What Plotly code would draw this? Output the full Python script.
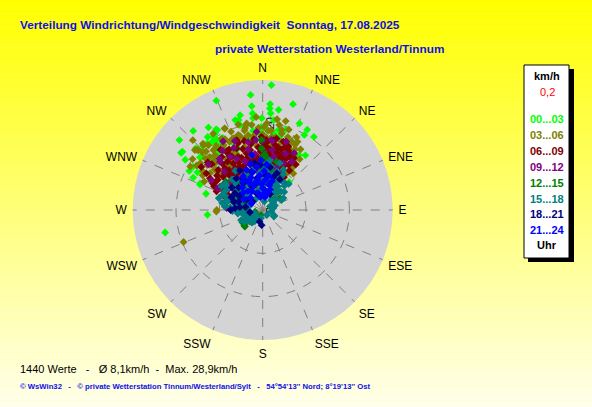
import plotly.graph_objects as go

W, H = 592, 407

compass = ["N", "NNE", "NE", "ENE", "E", "ESE", "SE", "SSE",
           "S", "SSW", "SW", "WSW", "W", "WNW", "NW", "NNW"]
compass_deg = [i * 22.5 for i in range(16)]

hour_labels = ["00...03", "03...06", "06...09", "09...12",
               "12...15", "15...18", "18...21", "21...24"]
hour_colors = ["#00ff00", "#808000", "#800000", "#800080",
               "#008000", "#008080", "#000080", "#0000ff"]

# (direction in degrees, speed in km/h)
pts_00_03 = [(4, 28.9), (354, 26.7), (337, 27.4), (354, 24.1), (4, 24.5), (16, 25.4), (9, 23.4),
             (354, 22.4), (23, 21.7), (29, 21.2), (35, 20.6), (29, 19.8), (38, 16), (43, 8.9),
             (310, 25.1), (306, 22.9), (303, 21.3), (298, 19.2), (295, 17.7), (292, 15.6),
             (286, 13.6), (265, 12.8), (257, 23.1), (310, 18.9), (317, 20.2), (323, 21.1),
             (323, 19.6), (330, 21.5), (343, 21.7), (345, 20.3), (348, 19.6), (354, 21.3),
             (357, 18.9), (3, 18.6), (11, 18.8), (14, 18.1), (7, 20.9), (16, 19.3), (300, 17.4),
             (302, 18.9), (327, 19.3), (328, 18), (329, 16.1), (334, 15.4), (338, 15.3),
             (321, 16.8), (293, 15.7), (346.6, 22.5), (345, 21.5), (326.7, 22.8), (318.7, 24.3),
             (330.4, 21.2), (326, 20.4), (305, 23), (311.4, 18.6), (312.8, 21), (314.5, 19.7),
             (322, 18), (325, 19.5), (328, 20.8), (331, 19), (320, 20), (324, 17.2),
             (4, 23.5), (4.7, 22.4), (359.4, 21.2), (359, 19.2), (13, 17.4), (353, 18.4),
             (352.5, 16.7), (358.5, 17.3), (8.5, 17.7), (358, 18.5), (22.5, 15.4), (33.4, 15.2),
             (315, 17), (318, 15), (336, 17), (341, 18), (350, 17), (6, 16), (20, 14)]
pts_03_06 = [(248, 19.7), (268, 10.7), (14.5, 21.2), (9, 21.2), (28, 15.7), (22.5, 17.1), (33, 10.1),
             (349.5, 20.3), (335, 20.7), (315, 17.3), (312.5, 20.5), (304, 18.3), (310, 14.5),
             (309, 12.9), (334, 17.5), (340, 17.9), (3, 16.7), (315, 22.8), (317.6, 20.3),
             (313.7, 19.2), (311.5, 20.9), (335, 20.8), (349, 20), (349, 17.6), (336, 17.7),
             (28, 15.9), (23, 17.2), (2.6, 20), (4, 18.3), (14, 18.2), (21, 13.8), (270, 10.6),
             (304, 18.4), (305, 14.8), (314, 15.4), (323, 13.1), (318, 20.6), (313, 20.3),
             (320.5, 17.9), (316, 15.9), (325, 14.5), (335, 14), (344, 15.2), (337.7, 17.9),
             (31.5, 13.5), (22.4, 12.5), (13.4, 19), (26.4, 16.8), (311, 14.1), (310.5, 16),
             (323, 12.5), (350.6, 15.6), (3.8, 13.9), (352.6, 19.8), (347.8, 19.3), (342, 18.2),
             (328, 16.5), (300, 16), (8, 15), (17, 14.5), (355, 14.8), (330, 19),
             (320, 19.5), (327, 21), (332, 18.5), (338, 19.5), (344, 20.5), (346, 17), (357, 19),
             (0, 17.5), (6, 18.5), (10, 17), (18, 19.5), (20, 16), (25, 18.5), (35, 12), (40, 11),
             (303, 16.5), (307, 18), (312, 17.8), (319, 16.8), (326, 13.5), (333, 15.2),
             (299, 13.5), (296, 15), (356, 21.5),
             (301, 19.5), (306, 20), (309, 16.5), (316, 18.8), (321, 15.3), (324, 18.3),
             (329, 17.5), (331, 14.5), (339, 16.3), (343, 17.8), (347, 18.8), (353, 17.2),
             (1, 19.2), (7, 17), (11, 20), (15, 16.3), (19, 17.8), (24, 15.3), (27, 17.7),
             (30, 14.5), (36, 14.5), (32, 16.5)]
pts_06_09 = [(298.6, 11.2), (301, 14.2), (310, 11.9), (18.6, 16.6), (293.6, 8.7), (330, 14.2),
             (335, 13.5), (348, 14.2), (355, 10.8), (11, 11), (22, 10.8), (21, 12.4), (3.6, 14.6),
             (10.7, 15.3), (19.4, 15.5), (305, 17.3), (326, 10.2), (338, 11.2), (359, 16.9),
             (8.6, 16.3), (16.8, 16.5), (22, 15.8), (357, 11.1), (7, 14.1), (18.5, 12.6),
             (13.8, 15), (7, 13.9), (348, 14.1), (337, 15.4), (329, 14.7), (318, 13), (332, 11.3),
             (357, 11.6), (25.4, 11.1), (25, 13.2), (25.7, 14.5), (339.6, 17.2), (3, 16.2),
             (13.9, 13.5), (350.6, 10.9), (7, 10.5), (318, 11.3), (327.8, 12.7), (322.4, 15.5),
             (312, 15.8), (320, 12), (343, 12.5), (352, 13), (0, 12.2), (14, 11.5), (30, 12),
             (306, 10.5), (335, 9.5), (345, 16.5), (315, 9.8), (2, 9.5), (28, 9),
             (296, 10), (304, 12.5), (312, 13.8), (316, 11), (324, 13.8), (328, 15.8), (333, 12.3),
             (338, 13), (342, 14.8), (346, 11.5), (350, 15.5), (354, 12.5), (356, 14.5), (2, 13),
             (5, 11.8), (9, 12.6), (12, 14), (16, 13.2), (19, 11.2), (24, 12), (27, 13.8),
             (34, 11), (360, 15.5), (4, 15.8), (340, 16.5), (325, 17), (300, 12.7), (290, 9.5),
             (308, 9.3),
             (298, 13), (303, 15.5), (307, 13.2), (311, 16.8), (314, 12.2), (319, 14.2),
             (322, 10.8), (327, 11.5), (331, 16), (336, 10.5), (341, 11.8), (344, 13.6), (347, 10),
             (351, 11.8), (353, 16.5), (358, 13.5), (1, 14.8), (6, 13), (8, 10), (11, 16.8),
             (15, 10.3), (17, 14.6), (20, 13.5), (23, 15), (26, 10.2), (31, 14), (33, 9), (36, 13),
             (292, 11.5), (296, 12.5)]
pts_09_12 = [(310, 16.4), (7, 16.3), (31, 13), (355.6, 18.1), (303, 9.2), (273, 8.3), (300, 13.7),
             (230, 1.8), (330, 18.3), (354.5, 16.2), (8, 16.1), (198, 2), (19, 16.7), (325, 11.2),
             (306, 8.4), (351.5, 9.3), (15.8, 9.6), (346.7, 14.4), (0.6, 13.8), (318.5, 14.9),
             (328.5, 14.4), (27, 9.7), (340, 12), (12, 12.5), (322, 9), (22, 14), (335, 15.8),
             (358, 8), (296, 11.5), (38, 8),
             (315, 12.5), (320, 15.5), (326, 16.5), (333, 13.3), (338, 17.2), (344, 11), (348, 16),
             (0, 16), (4, 11.5), (9, 14), (18, 10.5), (24, 11.8), (29, 15), (302, 10.8), (310, 10),
             (330, 8.6), (352, 13), (6, 9)]
pts_12_15 = [(229.5, 5.6), (55, 4.7), (359, 16.2), (359, 14.2), (2, 12.9), (227, 5.6), (56, 4.8),
             (257, 1.8), (274, 5.6), (265, 4.5), (233, 5.1), (239, 5.5), (247, 1.9), (0, 12.3),
             (0, 11), (1, 9.5), (16, 11.6), (307.5, 10.7), (260, 3), (280, 4), (300, 5),
             (350, 6.5), (10, 7), (30, 6), (45, 3.5), (200, 1.2), (320, 8),
             (250, 4), (240, 4.5), (270, 3.5), (285, 7), (290, 5), (310, 6.5), (330, 5.5),
             (20, 5), (40, 5.5), (15, 9), (340, 9), (355, 10), (5, 12)]
pts_15_18 = [(220, 3.8), (118, 2.9), (282, 8.9), (223, 3.7), (116, 3), (35, 5.6), (18.5, 8.9),
             (288, 7.5), (253, 3.9), (282, 8.5), (236, 4.4), (222, 3.8), (120.6, 3), (22.5, 5.4),
             (65, 1.9), (36, 4.8), (27.5, 7.8), (11.7, 10.2), (329.5, 8), (312, 8.6), (305, 5.9),
             (234, 2.6), (291, 3.1), (62, 4.9), (283, 8.5), (26, 5.6), (26, 8.1), (10, 7.4),
             (191, 1.9), (270, 6), (295, 6.5), (320, 6), (340, 7), (355, 8.5), (5, 6),
             (40, 3), (80, 2.5), (250, 2), (300, 9.5), (15, 4),
             (285, 6), (290, 9), (296, 7), (300, 4), (308, 8), (315, 7), (325, 5), (333, 9),
             (345, 9.5), (350, 4), (0, 9), (8, 9.5), (17, 7), (30, 8), (45, 6), (55, 3), (100, 2),
             (140, 1.5), (210, 2.5), (240, 3.5), (265, 5), (275, 7.5), (230, 2.5), (215, 3.2),
             (280, 5), (287, 8), (293, 5.5), (303, 7), (310, 5), (318, 9), (327, 7), (336, 8),
             (343, 5), (352, 6), (358, 7), (3, 10), (13, 8), (20, 9.5), (24, 7), (33, 6.5),
             (38, 5), (50, 4), (70, 3), (260, 4), (285, 3.5), (330, 3), (10, 2),
             (255, 4.5), (262, 5.8), (268, 7), (275, 8.8), (280, 9.5), (290, 10), (296, 9.8),
             (303, 9.8), (245, 5.5), (238, 5), (228, 4), (218, 2), (60, 5.5), (50, 6.5),
             (42, 7.5), (35, 8), (30, 9.5), (27, 10.5), (20, 11.5), (45, 8.5), (315, 10),
             (325, 11), (8, 11.5), (285, 10.5), (300, 11), (305, 10.5)]
pts_18_21 = [(184, 3.5), (270, 7.4), (302, 6.2), (313, 7.6), (29.4, 8.1), (288.8, 5.9), (301, 7.5),
             (300, 6.1), (21, 9.1), (357, 10.4), (344, 9.2), (324, 7.6), (274, 6.4), (286, 6.9),
             (302, 4.4), (335, 6), (350, 7.5), (5, 8), (15, 6), (340, 4), (310, 3), (320, 9.5),
             (10, 10), (280, 4), (350, 11), (25, 4), (260, 3), (330, 10.5),
             (277, 5.3), (292, 7.8), (306, 8.8), (328, 8.5), (345, 6.2), (18, 8), (195, 2.8)]
pts_21_24 = [(300, 3), (350, 3), (10, 3),
             (315, 4), (345, 4), (15, 4),
             (300, 5), (330, 5), (0, 5), (20, 5),
             (312, 6), (340, 6), (358, 6), (14, 6),
             (318, 7), (334, 7), (350, 7), (5, 7), (18, 7),
             (325, 8), (340, 8), (355, 8), (10, 8),
             (330, 9), (345, 9), (2, 9),
             (338, 10), (352, 10), (5, 10.5),
             (345, 11), (358, 11.5), (348.7, 12.9),
             (335, 7.5), (322, 5.5), (0, 3.5), (8, 4.5), (345, 6.5)]

groups = [pts_00_03, pts_03_06, pts_06_09, pts_09_12,
          pts_12_15, pts_15_18, pts_18_21, pts_21_24]

title = "Verteilung Windrichtung/Windgeschwindigkeit\u00a0\u00a0Sonntag, 17.08.2025"
subtitle = "private Wetterstation Westerland/Tinnum"
footer1 = "1440 Werte\u00a0\u00a0\u00a0-\u00a0\u00a0\u00a0Ø 8,1km/h\u00a0\u00a0-\u00a0\u00a0Max. 28,9km/h"
footer2 = ("© WsWin32\u00a0\u00a0\u00a0-\u00a0\u00a0\u00a0© private Wetterstation Tinnum/Westerland/Sylt"
           "\u00a0\u00a0\u00a0-\u00a0\u00a0\u00a054°54'13'' Nord; 8°19'13'' Ost")


def px(x):
    return x / W


def py(y):
    return 1 - y / H


fig = go.Figure()

for pts, name, col in zip(groups, hour_labels, hour_colors):
    theta, r = zip(*pts)
    fig.add_trace(go.Scatterpolar(
        r=r, theta=theta, mode="markers", name=name, showlegend=False,
        marker=dict(symbol="diamond", size=6, color=col, line=dict(width=0))))

# background gradient yellow -> pale yellow
shapes = []
n = 60
for i in range(n):
    t = i / (n - 1)
    b = int(235 * t)
    shapes.append(dict(type="rect", xref="paper", yref="paper", layer="below",
                       x0=0, x1=1, y0=1 - (i + 1) / n, y1=1 - i / n,
                       fillcolor=f"rgb(255,255,{b})", line=dict(width=0)))

# legend box with shadow
shapes.append(dict(type="rect", xref="paper", yref="paper", layer="above",
                   x0=px(528), x1=px(574), y0=py(262), y1=py(69),
                   fillcolor="black", line=dict(width=0)))
shapes.append(dict(type="rect", xref="paper", yref="paper", layer="above",
                   x0=px(524), x1=px(569), y0=py(258), y1=py(65),
                   fillcolor="white", line=dict(color="black", width=1)))

ann = []
ann.append(dict(text="<b>" + title + "</b>", x=px(18), y=py(25), xanchor="left", yanchor="middle",
                font=dict(family="Arial", size=11.8, color="#1010e8")))
ann.append(dict(text="<b>" + subtitle + "</b>", x=px(213), y=py(49), xanchor="left", yanchor="middle",
                font=dict(family="Arial", size=11.8, color="#1010e8")))
ann.append(dict(text=footer1, x=px(18), y=py(369), xanchor="left", yanchor="middle",
                font=dict(family="Arial", size=11, color="black")))
ann.append(dict(text="<b>" + footer2 + "</b>", x=px(18), y=py(386), xanchor="left", yanchor="middle",
                font=dict(family="Arial", size=7.7, color="#1010e8")))

ann.append(dict(text="<b>km/h</b>", x=px(547), y=py(76), xanchor="center", yanchor="middle",
                font=dict(family="Arial", size=11, color="black")))
ann.append(dict(text="0,2", x=px(547), y=py(92), xanchor="center", yanchor="middle",
                font=dict(family="Arial", size=11, color="red")))
for i, (lab, col) in enumerate(zip(hour_labels, hour_colors)):
    ann.append(dict(text="<b>" + lab + "</b>", x=px(547), y=py(119 + i * 15.9),
                    xanchor="center", yanchor="middle",
                    font=dict(family="Arial", size=11, color=col)))
ann.append(dict(text="<b>Uhr</b>", x=px(547), y=py(245), xanchor="center", yanchor="middle",
                font=dict(family="Arial", size=11, color="black")))
for a in ann:
    a.update(xref="paper", yref="paper", showarrow=False)

cx, cy, rad = 262.7, 210, 130
fig.update_layout(
    width=W, height=H,
    margin=dict(l=0, r=0, t=0, b=0),
    paper_bgcolor="#ffff80",
    shapes=shapes,
    annotations=ann,
    polar=dict(
        domain=dict(x=[px(cx - rad), px(cx + rad)], y=[py(cy + rad), py(cy - rad)]),
        bgcolor="#d4d4d4",
        angularaxis=dict(rotation=90, direction="clockwise",
                         tickmode="array", tickvals=compass_deg, ticktext=compass,
                         tickfont=dict(family="Arial", size=12, color="black"),
                         showline=False, ticks="outside", ticklen=3,
                         tickcolor="rgba(0,0,0,0)", layer="below traces",
                         gridcolor="#808080", griddash="dash", gridwidth=1),
        radialaxis=dict(range=[0, 30], tickmode="array", tickvals=[0, 10, 20],
                        ticktext=["0", "10", "20"], angle=90, tickangle=0,
                        side="clockwise", showline=False, ticks="",
                        tickfont=dict(family="Arial", size=11, color="black"),
                        layer="below traces",
                        gridcolor="#808080", griddash="dash", gridwidth=1),
    ),
)

# page body has a default margin; drop it so the figure sits at the window corner
fig.write_html("out.html", config={"displayModeBar": False},
               post_script="document.body.style.margin='0';")
